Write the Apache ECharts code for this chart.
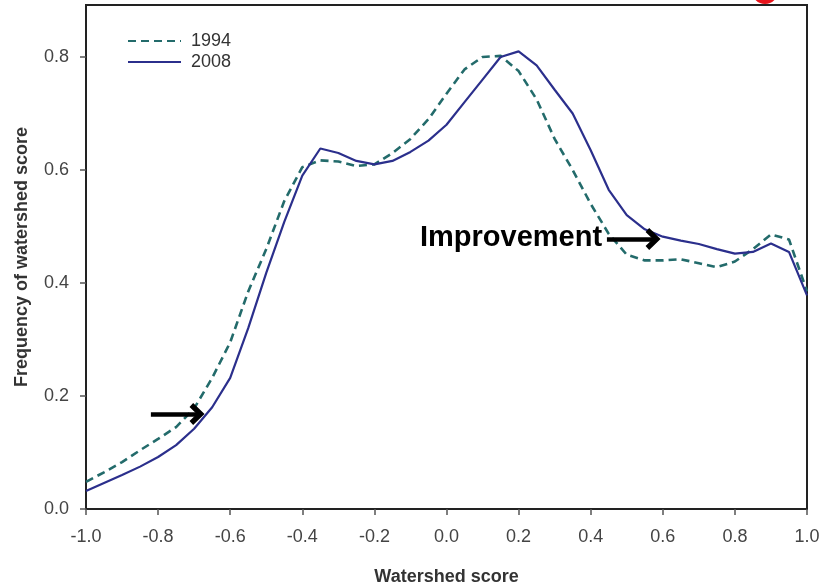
<!DOCTYPE html>
<html>
<head>
<meta charset="utf-8">
<script src="https://cdn.jsdelivr.net/npm/echarts@6/dist/echarts.min.js"></script>
<style>
  html, body { margin: 0; padding: 0; background: #fff; }
  #chart { width: 827px; height: 583px; }
</style>
</head>
<body>
<div id="chart"></div>
<script>
// watershed score, step 0.05
const scores = [
  -1.00, -0.95, -0.90, -0.85, -0.80, -0.75, -0.70, -0.65, -0.60, -0.55,
  -0.50, -0.45, -0.40, -0.35, -0.30, -0.25, -0.20, -0.15, -0.10, -0.05,
  0.00, 0.05, 0.10, 0.15, 0.20, 0.25, 0.30, 0.35, 0.40, 0.45,
  0.50, 0.55, 0.60, 0.65, 0.70, 0.75, 0.80, 0.85, 0.90, 0.95, 1.00
]
const freq1994 = [
  0.048, 0.065, 0.083, 0.104, 0.124, 0.145, 0.178, 0.232, 0.295, 0.385,
  0.460, 0.545, 0.605, 0.617, 0.615, 0.607, 0.610, 0.630, 0.655, 0.690,
  0.735, 0.778, 0.800, 0.802, 0.775, 0.725, 0.655, 0.600, 0.540, 0.487,
  0.450, 0.440, 0.440, 0.442, 0.435, 0.428, 0.438, 0.460, 0.486, 0.477, 0.385
]
const freq2008 = [
  0.032, 0.046, 0.060, 0.075, 0.092, 0.113, 0.142, 0.180, 0.232, 0.320,
  0.418, 0.508, 0.590, 0.638, 0.630, 0.616, 0.610, 0.616, 0.632, 0.652,
  0.680, 0.720, 0.760, 0.800, 0.810, 0.785, 0.742, 0.700, 0.635, 0.565,
  0.520, 0.495, 0.482, 0.475, 0.469, 0.460, 0.452, 0.455, 0.470, 0.455, 0.378
]
const xTicks = [-1.0, -0.8, -0.6, -0.4, -0.2, 0.0, 0.2, 0.4, 0.6, 0.8, 1.0]
const yTicks = [0.0, 0.2, 0.4, 0.6, 0.8]

// annotation arrows: [fromScore, toScore, frequency]
const improvementArrow = [0.445, 0.573, 0.478]
const lowArrow = [-0.820, -0.692, 0.168]

const chart = echarts.init(document.getElementById('chart'), null, { renderer: 'canvas' })

const font = 'Liberation Sans, Arial, sans-serif'
const boxColor = '#222'
// open chevron head, pointing up (markLine rotates it along the line)
const chevron = 'path://M0,11 L11,0 L22,11 L18,14.5 L11,7.5 L4,14.5 Z'

function arrowLine(a) {
  return [{ coord: [a[0], a[2]] }, { coord: [a[1], a[2]] }]
}

chart.setOption({
  animation: false,
  textStyle: { fontFamily: font },
  grid: {
    left: 86, right: 20, top: 5, bottom: 74,
    outerBoundsMode: 'none',
    show: true, borderColor: boxColor, borderWidth: 2, backgroundColor: '#fff'
  },
  legend: {
    orient: 'vertical',
    left: 122, top: 27,
    itemWidth: 53, itemHeight: 14, itemGap: 3,
    itemStyle: { opacity: 0 },
    textStyle: { fontSize: 18, color: '#333', fontFamily: font, padding: [0, 0, 0, 5] },
    data: ['1994', '2008']
  },
  xAxis: {
    type: 'value',
    min: -1, max: 1, interval: 0.2,
    name: 'Watershed score',
    nameLocation: 'middle', nameGap: 59,
    nameTextStyle: { fontSize: 18, fontWeight: 'bold', color: '#333' },
    axisLine: { show: true, onZero: false, lineStyle: { color: boxColor, width: 2 } },
    axisTick: { show: true, length: 6, lineStyle: { color: '#555', width: 1.5 } },
    axisLabel: {
      fontSize: 18, color: '#444', margin: 19,
      formatter: v => xTicks.some(t => Math.abs(t - v) < 1e-6) ? v.toFixed(1) : ''
    },
    splitLine: { show: false }
  },
  yAxis: {
    type: 'value',
    min: 0, max: 0.892, interval: 0.2,
    name: 'Frequency of watershed score',
    nameLocation: 'middle', nameGap: 55, nameRotate: 90,
    nameTextStyle: { fontSize: 18, fontWeight: 'bold', color: '#333' },
    axisLine: { show: true, onZero: false, lineStyle: { color: boxColor, width: 2 } },
    axisTick: { show: true, length: 6, lineStyle: { color: '#555', width: 1.5 } },
    axisLabel: {
      fontSize: 18, color: '#444', margin: 17, showMaxLabel: false,
      formatter: v => yTicks.some(t => Math.abs(t - v) < 1e-6) ? v.toFixed(1) : ''
    },
    splitLine: { show: false }
  },
  series: [
    {
      name: '1994',
      type: 'line',
      data: scores.map((s, i) => [s, freq1994[i]]),
      showSymbol: false,
      symbol: 'none',
      color: '#236b6b',
      lineStyle: { color: '#236b6b', width: 2.6, type: [8, 5] },
      z: 3
    },
    {
      name: '2008',
      type: 'line',
      data: scores.map((s, i) => [s, freq2008[i]]),
      showSymbol: false,
      symbol: 'none',
      color: '#2b2f8c',
      lineStyle: { color: '#2b2f8c', width: 2.2 },
      z: 4,
      markLine: {
        silent: true,
        symbol: ['none', chevron],
        symbolSize: [22, 15],
        lineStyle: { color: '#000', width: 4.5, type: 'solid' },
        label: { show: false },
        data: [arrowLine(improvementArrow), arrowLine(lowArrow)]
      }
    }
  ],
  graphic: [
    {
      type: 'text',
      left: 420, top: 223,
      style: {
        text: 'Improvement',
        font: 'bold 29px Liberation Sans, Arial, sans-serif',
        fill: '#000'
      }
    },
    {
      type: 'circle',
      shape: { cx: 765, cy: -9, r: 11 },
      style: { fill: 'none', stroke: '#e8141b', lineWidth: 4 }
    }
  ]
})
</script>
</body>
</html>
